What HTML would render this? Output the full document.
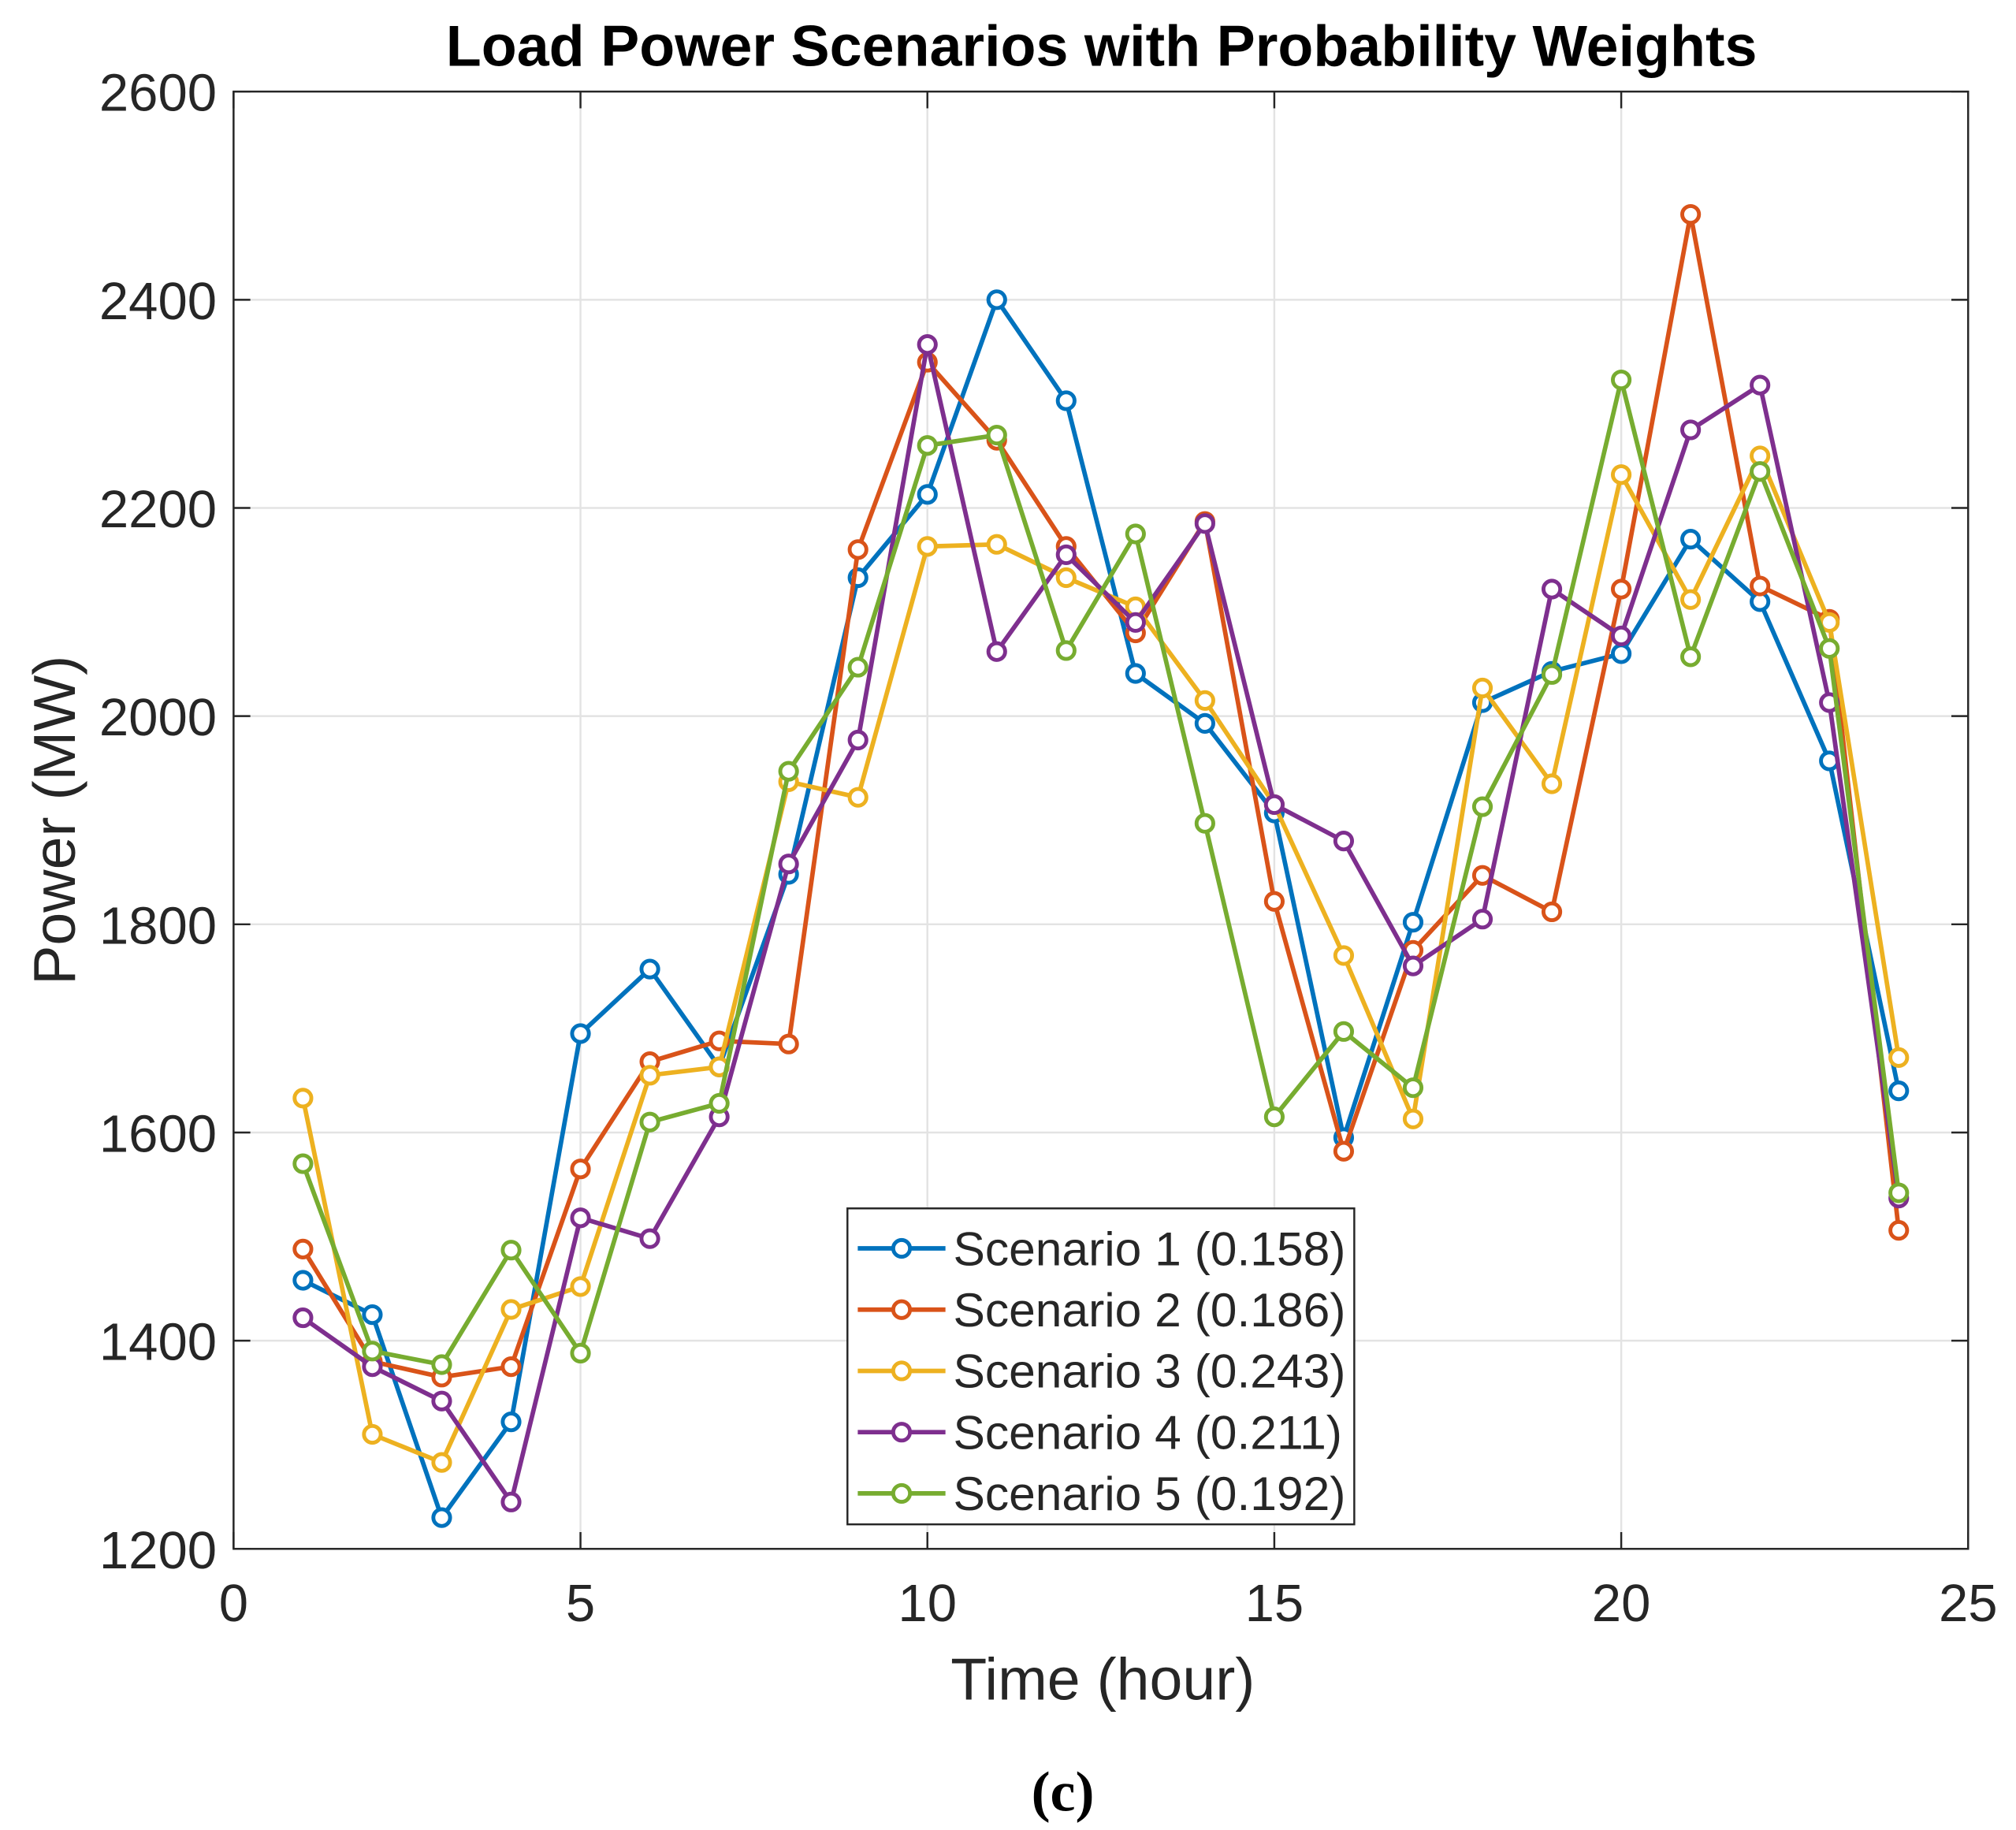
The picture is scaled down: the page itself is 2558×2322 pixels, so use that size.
<!DOCTYPE html>
<html><head><meta charset="utf-8">
<style>
html,body{margin:0;padding:0;background:#fff;}
svg{display:block;}
text{font-family:"Liberation Sans",Arial,sans-serif;fill:#262626;}
</style></head>
<body>
<svg id="chart" width="2558" height="2322" viewBox="0 0 1563 1419" xmlns="http://www.w3.org/2000/svg">
<rect x="0" y="0" width="1563" height="1419" fill="#fff"/>
<g id="grid"></g>
<g id="axes"></g>
<g id="series"></g>
<text x="854" y="51" text-anchor="middle" font-size="45" font-weight="bold" style="fill:#000">Load Power Scenarios with Probability Weights</text>
<text x="855" y="1318" text-anchor="middle" font-size="46">Time (hour)</text>
<text transform="translate(58,636) rotate(-90)" text-anchor="middle" font-size="46">Power (MW)</text>
<text x="824" y="1404" text-anchor="middle" font-size="44" font-weight="bold" style="font-family:'Liberation Serif',serif;fill:#000">(c)</text>
<g id="legend"></g>
</svg>
<script>
const hours=[1,2,3,4,5,6,7,8,9,10,11,12,13,14,15,16,17,18,19,20,21,22,23,24];
const s1=[1458,1425,1230,1322,1695,1757,1663,1848,2133,2213,2400,2303,2041,1993,1907,1595,1802,2013,2043,2060,2170,2110,1957,1640];
const s2=[1488,1380,1365,1375,1565,1668,1688,1685,2160,2340,2265,2163,2080,2187,1822,1582,1775,1847,1812,2122,2482,2125,2093,1506];
const s3=[1633,1310,1283,1430,1452,1655,1663,1937,1922,2163,2165,2133,2105,2015,1915,1770,1613,2027,1935,2232,2112,2250,2090,1672];
const s4=[1422,1375,1342,1245,1518,1498,1615,1858,1977,2357,2062,2155,2090,2185,1915,1880,1760,1805,2122,2077,2275,2318,2013,1537];
const s5=[1570,1390,1377,1487,1388,1610,1628,1947,2047,2260,2270,2063,2175,1897,1615,1697,1643,1913,2040,2323,2057,2235,2065,1542];
const seriesNames=["Scenario 1 (0.158)","Scenario 2 (0.186)","Scenario 3 (0.243)","Scenario 4 (0.211)","Scenario 5 (0.192)"];
const xTicks=[0,5,10,15,20,25];
const yTicks=[1200,1400,1600,1800,2000,2200,2400,2600];
const allSeries=[s1,s2,s3,s4,s5];
const colors=["#0072BD","#D95319","#EDB120","#7E2F8E","#77AC30"];
const L=181,R=1526,T=71,B=1201,xMin=0,xMax=25,yMin=1200,yMax=2600;
function xs(v){return L+(v-xMin)/(xMax-xMin)*(R-L);}
function ys(v){return B-(v-yMin)/(yMax-yMin)*(B-T);}
const NS="http://www.w3.org/2000/svg";
function mk(tag,attrs,parent){const e=document.createElementNS(NS,tag);for(const k in attrs)e.setAttribute(k,attrs[k]);parent.appendChild(e);return e;}
const grid=document.getElementById('grid'),axes=document.getElementById('axes'),ser=document.getElementById('series'),leg=document.getElementById('legend');
xTicks.forEach(t=>{
 const g=mk('line',{x1:xs(t),x2:xs(t),y1:T,y2:B,stroke:'#e3e3e3','stroke-width':1.5},grid);
 
 
 const tk=mk('line',{x1:xs(t),x2:xs(t),y1:B,y2:B-13,stroke:'#262626','stroke-width':1.5},axes);
 
 
 const tk2=mk('line',{x1:xs(t),x2:xs(t),y1:T,y2:T+13,stroke:'#262626','stroke-width':1.5},axes);
 
 
 const lb=mk('text',{x:xs(t),y:B+56,'text-anchor':'middle','font-size':41},axes);lb.textContent=t;
 
 
});
yTicks.forEach(t=>{
 const g=mk('line',{x1:L,x2:R,y1:ys(t),y2:ys(t),stroke:'#e3e3e3','stroke-width':1.5},grid);
 
 
 const tk=mk('line',{x1:L,x2:L+13,y1:ys(t),y2:ys(t),stroke:'#262626','stroke-width':1.5},axes);
 
 
 const tk2=mk('line',{x1:R,x2:R-13,y1:ys(t),y2:ys(t),stroke:'#262626','stroke-width':1.5},axes);
 
 
 const lb=mk('text',{x:L-13,y:ys(t)+15,'text-anchor':'end','font-size':41},axes);lb.textContent=t;
 
 
});
const box=mk('rect',{x:L,y:T,width:R-L,height:B-T,fill:'none',stroke:'#262626','stroke-width':1.5},axes);


allSeries.forEach((s,i)=>{
 const g=mk('g',{},ser);
 
 
 const pts=s.map((v,j)=>xs(hours[j])+','+ys(v)).join(' ');
 const pl=mk('polyline',{points:pts,fill:'none',stroke:colors[i],'stroke-width':3.5,'stroke-linejoin':'round'},g);
 
 
 s.forEach((v,j)=>{
  const c=mk('circle',{cx:xs(hours[j]),cy:ys(v),r:6.5,fill:'#fff',stroke:colors[i],'stroke-width':3},g);
  
  
 });
});
const lb=mk('rect',{x:657,y:937,width:393,height:245,fill:'#fff',stroke:'#262626','stroke-width':1.5},leg);


seriesNames.forEach((n,i)=>{
 const y=968+i*47.5;
 const g=mk('g',{},leg);
 
 
 mk('line',{x1:665,x2:733,y1:y,y2:y,stroke:colors[i],'stroke-width':3.5},g);
 mk('circle',{cx:699,cy:y,r:6.5,fill:'#fff',stroke:colors[i],'stroke-width':3},g);
 const t=mk('text',{x:739,y:y+13,'font-size':37},g);t.textContent=n;
});
</script>
</body></html>
